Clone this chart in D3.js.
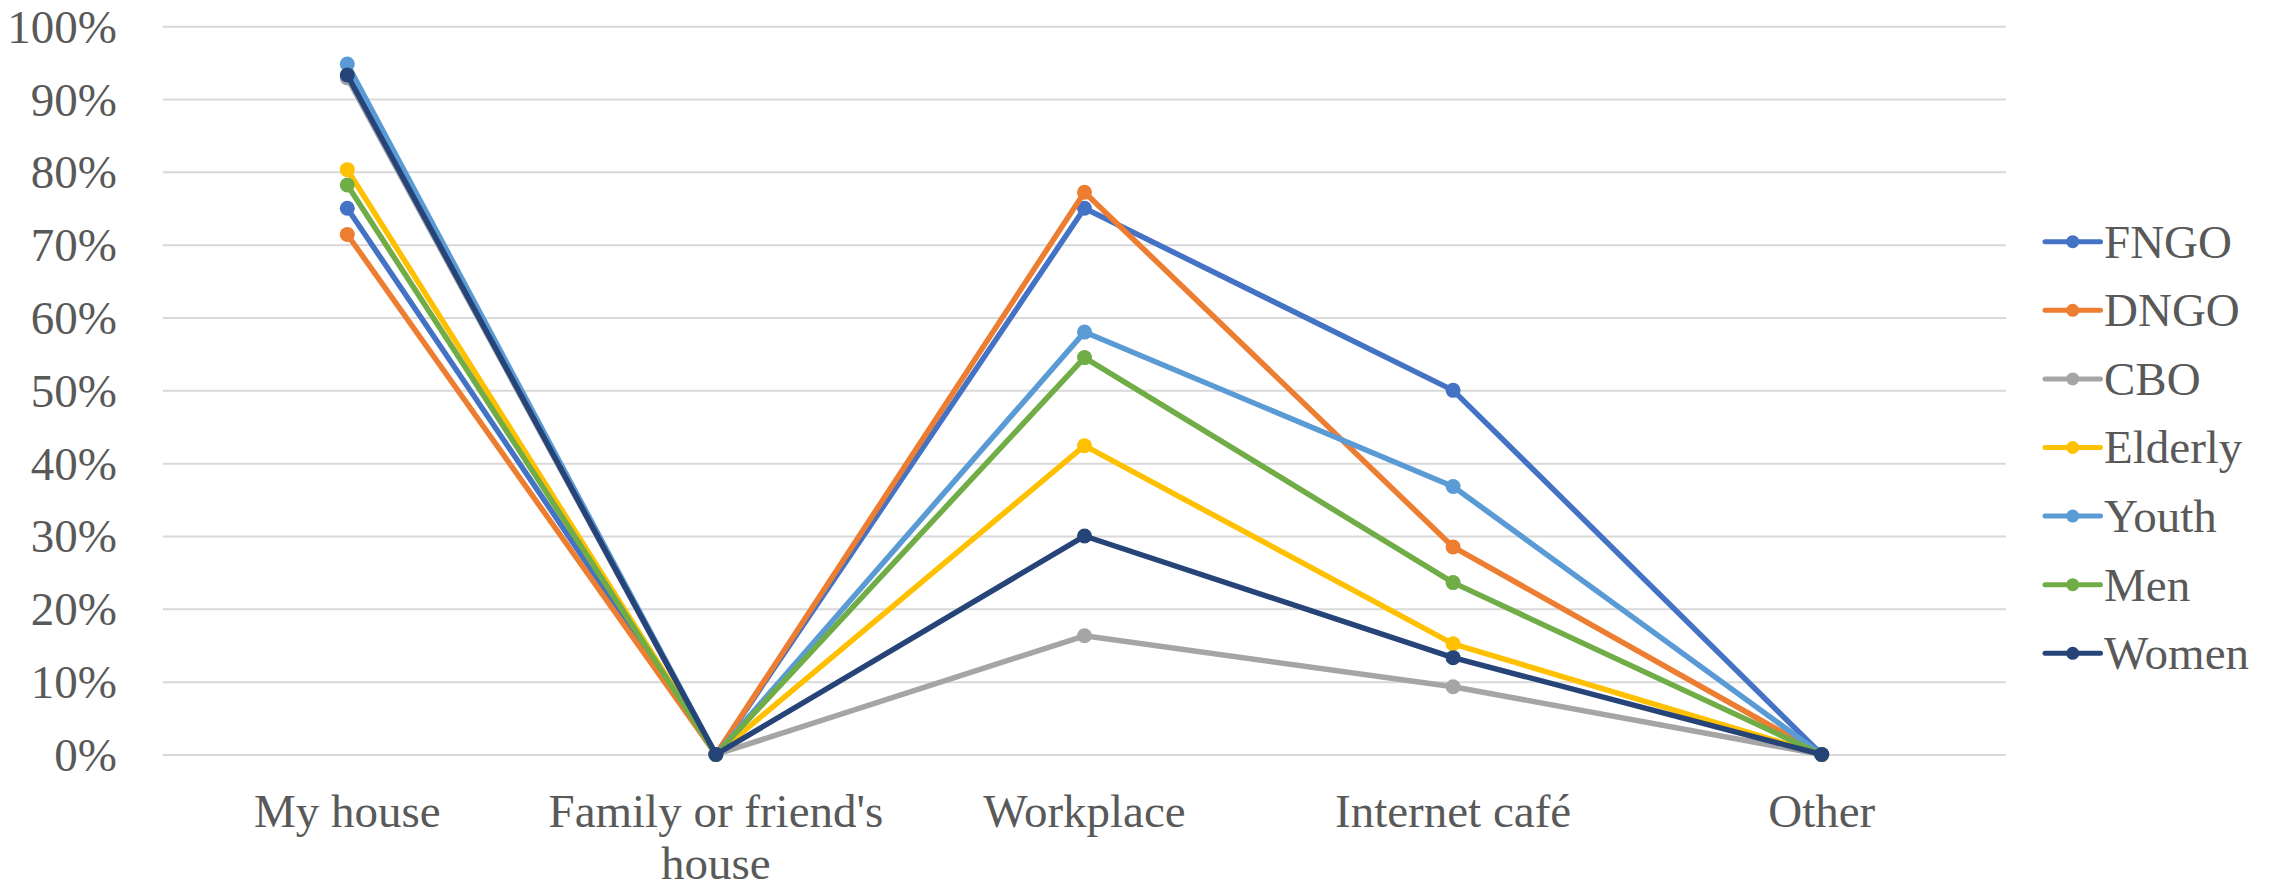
<!DOCTYPE html>
<html>
<head>
<meta charset="utf-8">
<script src="https://cdn.jsdelivr.net/npm/d3@7"></script>
<style>
  html, body { margin: 0; padding: 0; background: #fff; }
  svg { display: block; }
  svg text { font-family: "Liberation Serif", "DejaVu Serif", serif; }
</style>
</head>
<body>
<svg id="chart" width="2282" height="887"></svg>
<script>
const categories = ["My house", "Family or friend's house", "Workplace", "Internet café", "Other"];
const seriesNames = ["FNGO", "DNGO", "CBO", "Elderly", "Youth", "Men", "Women"];
const seriesColors = ["#4472C4", "#ED7D31", "#A5A5A5", "#FFC000", "#5B9BD5", "#70AD47", "#264478"];
const fngo    = [0.750, 0, 0.750, 0.500, 0];
const dngo    = [0.714, 0, 0.772, 0.285, 0];
const cbo     = [0.929, 0, 0.163, 0.093, 0];
const elderly = [0.803, 0, 0.424, 0.152, 0];
const youth   = [0.948, 0, 0.580, 0.368, 0];
const men     = [0.782, 0, 0.545, 0.236, 0];
const women   = [0.933, 0, 0.300, 0.133, 0];
const yTicks = [0, 0.1, 0.2, 0.3, 0.4, 0.5, 0.6, 0.7, 0.8, 0.9, 1.0];

(function() {
const seriesValues = [fngo, dngo, cbo, elderly, youth, men, women];
const series = seriesNames.map((n, i) => ({ name: n, color: seriesColors[i], values: seriesValues[i] }));

const svg = d3.select("#chart");
const font = "Liberation Serif, DejaVu Serif, serif";
const textColor = "#595959";
const fs = 47;

const pLeft = 163, pRight = 2006, pTop = 26.2, pBottom = 754.5;

const x = d3.scaleBand().domain(categories).range([pLeft, pRight]).padding(0);
const y = d3.scaleLinear().domain([0, 1]).range([pBottom, pTop]);

// gridlines
const yAxis = d3.axisLeft(y).tickValues(yTicks).tickSize(-(pRight - pLeft)).tickFormat(d3.format(".0%"));
const gy = svg.append("g").attr("transform", `translate(${pLeft},0)`).call(yAxis);
gy.attr("font-family", font).attr("font-size", fs);
gy.select(".domain").remove();
gy.selectAll(".tick line").attr("stroke", "#d9d9d9").attr("stroke-width", 2);
gy.selectAll(".tick text")
  .attr("x", -46)
  .attr("dy", "0.34em")
  .attr("fill", textColor)
  .attr("font-family", font)
  .attr("font-size", fs)
  .attr("text-anchor", "end");

// x axis labels
const xAxis = d3.axisBottom(x).tickSize(0).tickPadding(0);
const gx = svg.append("g").attr("transform", `translate(0,${pBottom})`).call(xAxis);
gx.attr("font-family", font).attr("font-size", fs);
gx.select(".domain").remove();
gx.selectAll(".tick text")
  .attr("fill", textColor)
  .attr("font-family", font)
  .attr("font-size", fs)
  .attr("y", 72)
  .attr("dy", 0)
  .each(function(d) {
    const t = d3.select(this);
    const bw = x.bandwidth() - 20;
    const words = d.split(" ");
    t.text(null);
    let ln = [];
    let lines = [];
    const tmp = t.append("tspan");
    words.forEach(w => {
      ln.push(w);
      tmp.text(ln.join(" "));
      if (tmp.node().getComputedTextLength() > bw && ln.length > 1) {
        ln.pop();
        lines.push(ln.join(" "));
        ln = [w];
      }
    });
    lines.push(ln.join(" "));
    tmp.remove();
    lines.forEach((l, i) => {
      t.append("tspan").attr("x", 0).attr("y", 72 + i * 52).text(l);
    });
  });

// lines & markers
const lineGen = d3.line()
  .x((d, i) => x(categories[i]) + x.bandwidth() / 2)
  .y(d => y(d));

const gs = svg.append("g");
series.forEach(s => {
  const g = gs.append("g");
  g.append("path")
    .attr("d", lineGen(s.values))
    .attr("fill", "none")
    .attr("stroke", s.color)
    .attr("stroke-width", 5.5)
    .attr("stroke-linejoin", "round")
    .attr("stroke-linecap", "round");
  g.selectAll("circle").data(s.values).enter().append("circle")
    .attr("cx", (d, i) => x(categories[i]) + x.bandwidth() / 2)
    .attr("cy", d => y(d))
    .attr("r", 7.5)
    .attr("fill", s.color);
});

// legend
const legend = svg.append("g");
const ly0 = 241.7, lstep = 68.6;
series.forEach((s, i) => {
  const yy = ly0 + i * lstep;
  legend.append("line")
    .attr("x1", 2045).attr("x2", 2100.5)
    .attr("y1", yy).attr("y2", yy)
    .attr("stroke", s.color).attr("stroke-width", 5)
    .attr("stroke-linecap", "round");
  legend.append("circle")
    .attr("cx", 2072.7).attr("cy", yy).attr("r", 6.5).attr("fill", s.color);
  legend.append("text")
    .attr("x", 2104).attr("y", yy).attr("dy", "0.34em")
    .attr("fill", textColor)
    .attr("font-family", font)
    .attr("font-size", fs)
    .text(s.name);
});
})();
</script>
</body>
</html>
